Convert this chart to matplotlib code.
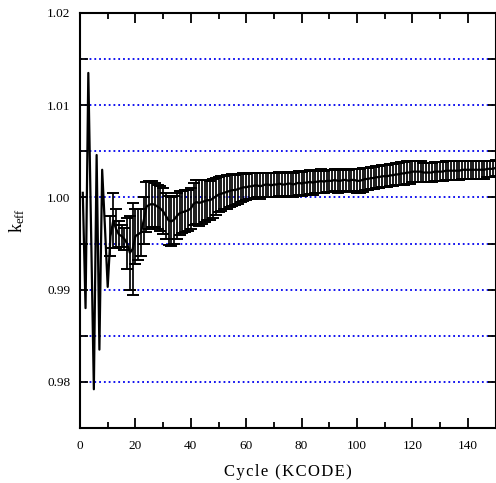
import matplotlib
matplotlib.use("Agg")
import matplotlib.pyplot as plt
import numpy as np

# first cycles (no error bars shown)
cycles_start = list(range(1, 11))
keff_start = [1.0005, 0.9880, 1.0135, 0.9962, 0.9792, 1.0046, 0.9835, 1.0030, 0.9968, 0.9903]

# cycles 11..150 with error bars
cycles = list(range(11, 151))
keff = [
    0.9958, 0.9975, 0.9966, 0.9960, 0.9958, 0.9955, 0.9950, 0.9940, 0.9944, 0.9958,  # 11-20
    0.9960, 0.9962, 0.9975, 0.9990, 0.9992, 0.9993, 0.9992, 0.9990, 0.9988, 0.9985,  # 21-30
    0.9980, 0.9975, 0.9974, 0.9976, 0.9980, 0.9983, 0.9984, 0.9985, 0.9986, 0.9988,  # 31-40
    0.9993, 0.9995, 0.9994, 0.9995, 0.9996, 0.9997, 0.9997, 0.9999, 1.0001, 1.0003,  # 41-50
    1.0004, 1.0005, 1.0006, 1.0007, 1.0008, 1.0008, 1.0009, 1.0010, 1.0011, 1.0011,  # 51-60
    1.0012, 1.0012, 1.0013, 1.0013, 1.0012, 1.0013, 1.0014, 1.0014, 1.0013, 1.0014,  # 61-70
    1.0014, 1.0015, 1.0014, 1.0014, 1.0015, 1.0015, 1.0014, 1.0015, 1.0016, 1.0015,  # 71-80
    1.0016, 1.0016, 1.0017, 1.0016, 1.0017, 1.0017, 1.0018, 1.0017, 1.0018, 1.0018,  # 81-90
    1.0018, 1.0019, 1.0018, 1.0018, 1.0019, 1.0019, 1.0018, 1.0019, 1.0019, 1.0018,  # 91-100
    1.0018, 1.0019, 1.0020, 1.0020, 1.0021, 1.0021, 1.0022, 1.0022, 1.0023, 1.0023,  # 101-110
    1.0023, 1.0024, 1.0024, 1.0025, 1.0025, 1.0026, 1.0026, 1.0027, 1.0027, 1.0028,  # 111-120
    1.0028, 1.0028, 1.0028, 1.0027, 1.0027, 1.0027, 1.0027, 1.0028, 1.0028, 1.0028,  # 121-130
    1.0028, 1.0029, 1.0029, 1.0029, 1.0029, 1.0029, 1.0029, 1.0030, 1.0030, 1.0030,  # 131-140
    1.0030, 1.0030, 1.0030, 1.0030, 1.0030, 1.0030, 1.0031, 1.0031, 1.0031, 1.0032,  # 141-150
]
err = [
    0.0022, 0.0030, 0.0021, 0.0014, 0.0012, 0.0012, 0.0028, 0.0040, 0.0050, 0.0030,
    0.0028, 0.0026, 0.0025, 0.0027, 0.0026, 0.0025, 0.0024, 0.0024, 0.0024, 0.0025,
    0.0025, 0.0027, 0.0027, 0.0026, 0.0025, 0.0024, 0.0023, 0.0023, 0.0022, 0.0022,
    0.0023, 0.0024, 0.0025, 0.0024, 0.0023, 0.0022, 0.0021, 0.0021, 0.0020, 0.0019,
    0.0019, 0.0018, 0.0018, 0.0017, 0.0017, 0.0016, 0.0016, 0.0015, 0.0015, 0.0014,
    0.0014, 0.0014, 0.0014, 0.0013, 0.0014, 0.0013, 0.0013, 0.0013, 0.0013, 0.0013,
    0.0013, 0.0013, 0.0013, 0.0013, 0.0013, 0.0013, 0.0013, 0.0013, 0.0013, 0.0013,
    0.0013, 0.0013, 0.0013, 0.0013, 0.0012, 0.0012, 0.0013, 0.0012, 0.0012, 0.0012,
    0.0012, 0.0012, 0.0013, 0.0012, 0.0012, 0.0012, 0.0012, 0.0012, 0.0012, 0.0013,
    0.0013, 0.0013, 0.0012, 0.0012, 0.0012, 0.0012, 0.0012, 0.0012, 0.0012, 0.0012,
    0.0012, 0.0012, 0.0012, 0.0012, 0.0012, 0.0012, 0.0012, 0.0012, 0.0012, 0.0011,
    0.0011, 0.0011, 0.0011, 0.0010, 0.0010, 0.0010, 0.0010, 0.0010, 0.0010, 0.0010,
    0.0010, 0.0010, 0.0010, 0.0010, 0.0010, 0.0010, 0.0010, 0.0010, 0.0010, 0.0010,
    0.0010, 0.0010, 0.0010, 0.0010, 0.0010, 0.0010, 0.0009, 0.0009, 0.0009, 0.0009,
]

grid_levels = [0.980, 0.985, 0.990, 0.995, 1.000, 1.005, 1.010, 1.015]

plt.rcParams['font.family'] = ['Liberation Serif', 'DejaVu Serif']

fig = plt.figure(figsize=(4.96, 4.83), dpi=100)
ax = fig.add_axes([0.1613, 0.1139, 0.8377, 0.8592])

for g in grid_levels:
    ax.axhline(g, color='#0000ee', linestyle=':', linewidth=1.3, zorder=1)

ax.plot(cycles_start + cycles, keff_start + keff, color='black', linewidth=1.6, zorder=3)
ax.errorbar(cycles, keff, yerr=err, fmt='none', ecolor='black', elinewidth=1.25,
            capsize=4.3, capthick=1.4, zorder=3)

ax.set_xlim(0, 150)
ax.set_ylim(0.975, 1.02)
ax.set_xticks(np.arange(0, 150, 20))
ax.set_xticks(np.arange(10, 150, 20), minor=True)
ax.set_yticks([0.98, 0.99, 1.00, 1.01, 1.02])
ax.set_yticks([0.985, 0.995, 1.005, 1.015], minor=True)
ax.set_yticklabels(['0.98', '0.99', '1.00', '1.01', '1.02'])

ax.tick_params(axis='both', which='both', direction='in', top=True, right=True,
               width=1.3, labelsize=9.5)
ax.tick_params(axis='x', which='major', length=7, pad=9)
ax.tick_params(axis='x', which='minor', length=4)
ax.tick_params(axis='y', which='both', length=6, pad=7)

for s in ax.spines.values():
    s.set_linewidth(1.5)

# letter-spaced axis title, as in the original
ax.set_xlabel('\u200a'.join('Cycle (KCODE)'), fontsize=12, labelpad=8)
ax.set_ylabel(r'$\mathregular{k_{eff}}$', fontsize=13, labelpad=14)

fig.savefig('out.png', dpi=100)
